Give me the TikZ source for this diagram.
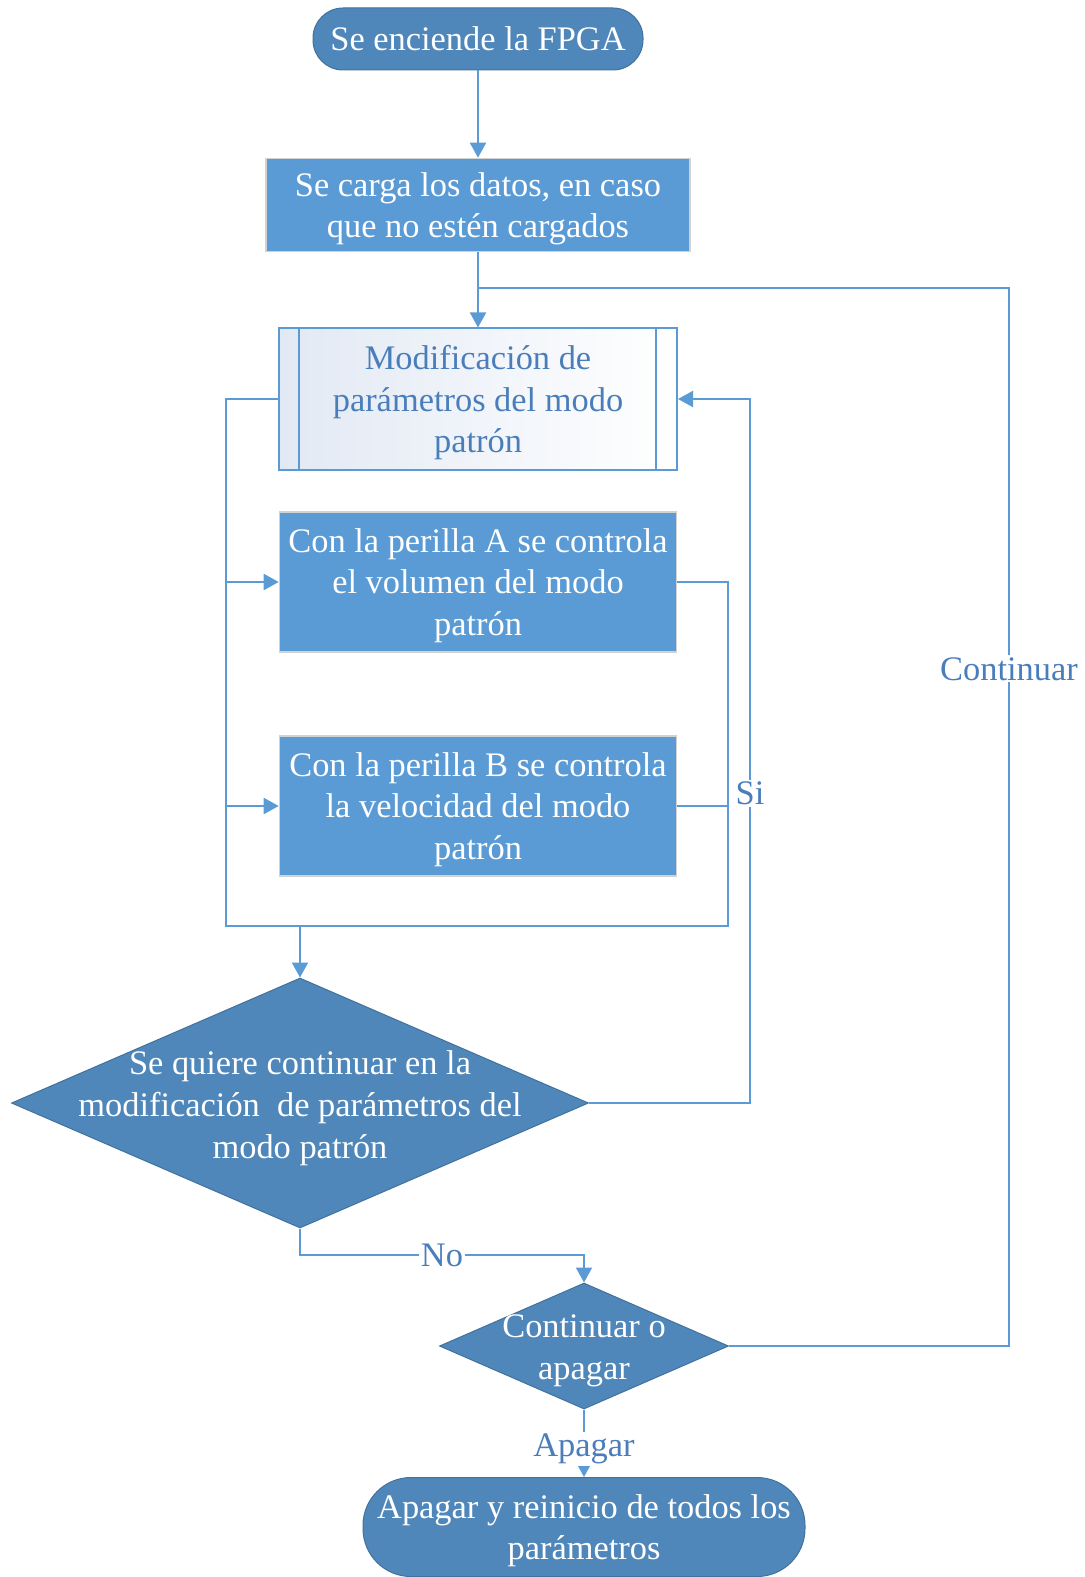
\documentclass[tikz,border=0pt]{standalone}
\usepackage{fontspec}
\setmainfont{Liberation Serif}
\usetikzlibrary{positioning,arrows.meta,shapes.geometric}
\definecolor{flowdark}{HTML}{4F87BA}
\definecolor{flowmid}{HTML}{5B9BD5}
\definecolor{flowedge}{HTML}{41719C}
\definecolor{flowtext}{HTML}{4A7EBB}
\definecolor{flowpale}{HTML}{E2E9F4}

\begin{document}
\begin{tikzpicture}[x=0.5pt, y=-0.5pt,
  every node/.style={font=\fontsize{17.2}{20.9}\selectfont, align=center, inner sep=0pt},
  terminal/.style={draw=flowedge, line width=0.5pt, fill=flowdark, text=white},
  process/.style={draw=gray!35, line width=0.8pt, fill=flowmid, text=white, text depth=0pt},
  subproc/.style={draw=flowmid, line width=1pt, left color=flowpale, right color=white, text=flowtext, text depth=0pt},
  decision/.style={diamond, draw=flowedge, line width=0.5pt, fill=flowdark},
  line/.style={draw=flowmid, line width=1pt},
  arr/.style={line, -{Triangle[length=7.5pt, width=8pt]}},
  lbl/.style={fill=white, text=flowtext, inner sep=1pt}]
\useasboundingbox (0,0) rectangle (1085,1577);

% shapes
\node[terminal, rounded corners=15pt, minimum width=165pt, minimum height=31pt] (start) at (478,39) {Se enciende la FPGA};
\node[process, minimum width=212pt, minimum height=46.5pt] (load) at (478,205) {Se carga los datos, en caso\\que no estén cargados};
\node[subproc, minimum width=199pt, minimum height=70.5pt] (sub) at (478,399) {Modificación de\\parámetros del modo\\patrón};
\draw[line] ([xshift=10.5pt]sub.north west) -- ([xshift=10.5pt]sub.south west);
\draw[line] ([xshift=-11pt]sub.north east) -- ([xshift=-11pt]sub.south east);
\node[process, minimum width=198.5pt, minimum height=70pt] (knobA) at (478,582) {Con la perilla A se controla\\el volumen del modo\\patrón};
\node[process, minimum width=198.5pt, minimum height=70pt] (knobB) at (478,806) {Con la perilla B se controla\\la velocidad del modo\\patrón};
\node[decision, minimum width=288.5pt, minimum height=125pt] (ask) at (300,1103) {};
\node[text=white] (asktext) at (300,1108) {Se quiere continuar en la\\modificación\ \ de parámetros del\\modo patrón};
\node[decision, minimum width=144.5pt, minimum height=63pt] (choice) at (584,1346) {};
\node[text=white] (choicetext) at (584,1351) {Continuar o\\apagar};
\node[terminal, text depth=-1.2pt, rounded corners=24pt, minimum width=221pt, minimum height=49.5pt] (finish) at (584,1527) {Apagar y reinicio de todos los\\parámetros};

% corners of the connectors
\coordinate (bl) at (226,926);
\coordinate (br) at (728,926);
\coordinate (siup) at (750,399);
\coordinate (nojoin) at (584,1255);
\coordinate (cont) at (1009,288);

% connectors
\draw[arr] (start) -- (load);
\draw[arr] (load) -- (sub);
\draw[line] (sub.west) -| (bl) -- (br) |- (knobA.east);
\draw[line] (knobB.east) -- (knobB.east -| br);
\draw[arr] (knobA.west -| bl) -- (knobA.west);
\draw[arr] (knobB.west -| bl) -- (knobB.west);
\draw[arr] (ask.north |- bl) -- (ask.north);
\draw[arr] (ask.east) -| node[lbl, pos=0.72] {Si} (siup) -- (sub.east);
\draw[arr] (ask.south) |- node[lbl, pos=0.75] {No} (nojoin) -- (choice.north);
\draw[line] (choice.east) -| node[lbl, pos=0.82] {Continuar} (cont) -- (load.south |- cont);
\draw[arr] (choice.south) -- node[lbl, pos=0.58] {Apagar} (finish.north);
\end{tikzpicture}
\end{document}
